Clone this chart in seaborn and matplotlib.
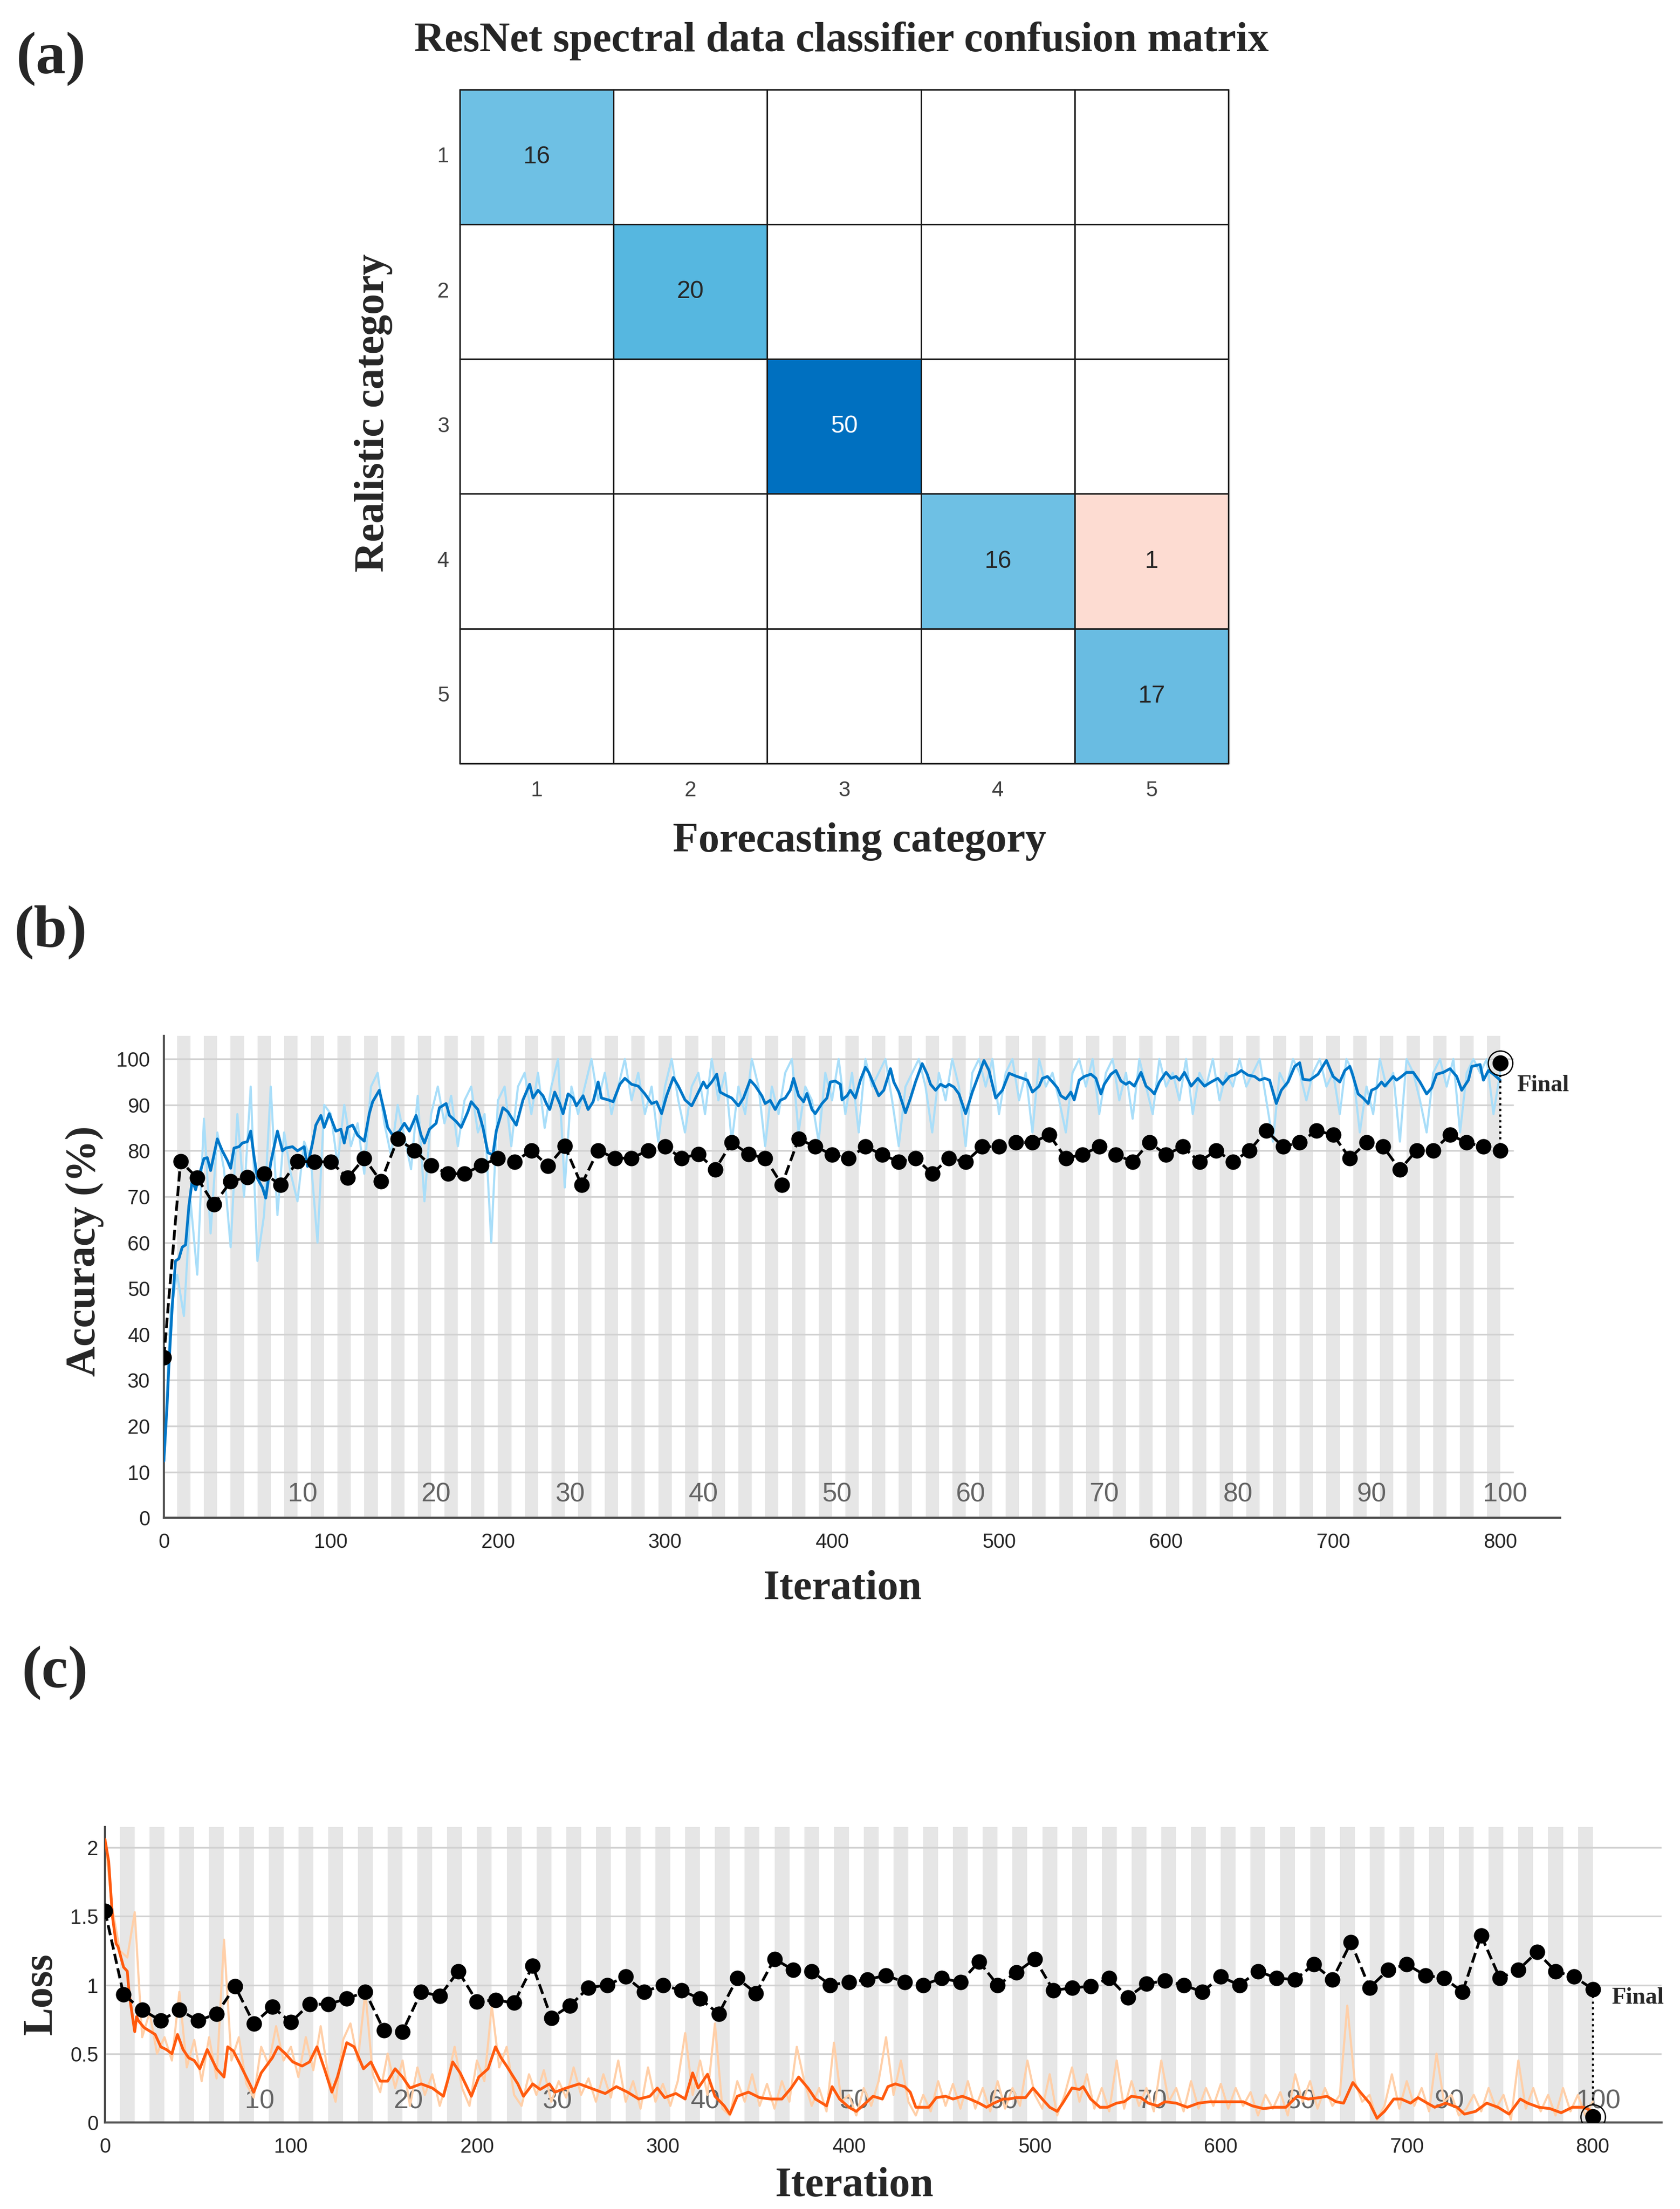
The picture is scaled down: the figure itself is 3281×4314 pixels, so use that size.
import numpy as np
import pandas as pd
import seaborn as sns
import matplotlib.pyplot as plt
from matplotlib.colors import LinearSegmentedColormap

sns.set_style("white")
plt.rcParams['font.family'] = ['Liberation Sans', 'DejaVu Sans']
SERIF = ['Liberation Serif', 'DejaVu Serif']

# ---------------- data ----------------
classes = ['1', '2', '3', '4', '5']
conf = np.array([[16, 0, 0, 0, 0],
                 [0, 20, 0, 0, 0],
                 [0, 0, 50, 0, 0],
                 [0, 0, 0, 16, 1],
                 [0, 0, 0, 0, 17]])

iters_per_epoch = 8
n_epochs = 100
epoch_marks = [10, 20, 30, 40, 50, 60, 70, 80, 90, 100]

val_it = np.arange(0, 801, 10)
val_acc = [35, 77.7, 74.1, 68.3, 73.3, 74.3, 75.0, 72.6, 77.7, 77.6,
           77.6, 74.1, 78.4, 73.3, 82.6, 80.1, 76.8, 75.0, 75.0, 76.8,
           78.4, 77.6, 80.1, 76.7, 81.0, 72.6, 80.1, 78.4, 78.4, 80.1,
           80.9, 78.4, 79.3, 75.9, 81.8, 79.3, 78.4, 72.6, 82.6, 80.9,
           79.2, 78.4, 80.9, 79.2, 77.6, 78.4, 75.0, 78.4, 77.6, 80.9,
           80.9, 81.8, 81.8, 83.5, 78.4, 79.2, 80.9, 79.2, 77.6, 81.8,
           79.2, 80.9, 77.6, 80.1, 77.6, 80.1, 84.4, 80.9, 81.8, 84.4,
           83.5, 78.4, 81.8, 80.9, 75.9, 80.1, 80.1, 83.5, 81.8, 80.9,
           80.1]
val_loss = [1.54, 0.93, 0.82, 0.74, 0.82, 0.74, 0.79, 0.99, 0.72, 0.84,
            0.73, 0.86, 0.86, 0.90, 0.95, 0.67, 0.66, 0.95, 0.92, 1.10,
            0.88, 0.89, 0.87, 1.14, 0.76, 0.85, 0.98, 1.00, 1.06, 0.95,
            1.00, 0.96, 0.90, 0.79, 1.05, 0.94, 1.19, 1.11, 1.10, 1.00,
            1.02, 1.04, 1.07, 1.02, 1.00, 1.05, 1.02, 1.17, 1.00, 1.09,
            1.19, 0.96, 0.98, 0.99, 1.05, 0.91, 1.01, 1.03, 1.00, 0.95,
            1.06, 1.00, 1.10, 1.05, 1.04, 1.15, 1.04, 1.31, 0.98, 1.11,
            1.15, 1.07, 1.05, 0.95, 1.36, 1.05, 1.11, 1.24, 1.10, 1.06,
            0.97]
final_acc = 99.1
final_loss = 0.04

# raw training accuracy, every 4 iterations
acc_raw = [12, 45, 53, 44, 69, 53, 87, 62, 84, 76, 59, 88, 70, 94, 56, 66, 94, 66, 84, 75, 69, 82, 78, 60, 90,
           88, 77, 90, 81, 86, 75, 94, 97, 86, 79, 90, 83, 76, 92, 69, 88, 94, 86, 92, 81, 91, 94, 84, 88, 60,
           91, 94, 81, 94, 97, 88, 97, 85, 94, 100, 72, 94, 88, 94, 100, 91, 97, 88, 94, 100, 91, 97, 88, 94, 82,
           94, 100, 91, 84, 94, 97, 88, 100, 91, 97, 82, 94, 88, 100, 94, 81, 94, 88, 97, 100, 84, 94, 91, 82, 97,
           91, 100, 88, 97, 84, 100, 94, 97, 100, 91, 81, 94, 97, 100, 94, 84, 97, 91, 100, 94, 81, 97, 100, 94, 100,
           88, 97, 100, 91, 97, 84, 100, 94, 97, 91, 84, 97, 100, 94, 100, 88, 97, 100, 91, 97, 87, 100, 94, 88, 100,
           94, 97, 91, 100, 88, 97, 94, 100, 91, 97, 94, 100, 94, 97, 100, 91, 82, 97, 94, 100, 97, 91, 97, 100, 94,
           97, 88, 100, 97, 84, 94, 88, 100, 94, 97, 82, 100, 97, 91, 84, 97, 100, 94, 100, 84, 97, 100, 97, 100, 88,
           97]

# smoothed training accuracy
acc_smooth_it = [0, 2, 3, 5, 7, 9, 11, 13, 15, 17, 19, 22, 24, 26, 28, 32, 35, 38, 40, 42,
                 45, 47, 50, 52, 54, 56, 59, 61, 64, 68, 71, 73, 77, 80, 84, 86, 89, 91, 94, 96,
                 99, 103, 106, 108, 110, 113, 116, 120, 123, 125, 129, 132, 134, 137, 141, 144, 147, 151, 154, 156,
                 159, 163, 165, 169, 171, 175, 178, 182, 184, 188, 191, 194, 197, 199, 203, 206, 208, 211, 215, 219,
                 221, 224, 227, 229, 231, 234, 237, 239, 242, 245, 247, 251, 254, 257, 260, 262, 266, 269, 273, 276,
                 280, 284, 288, 292, 295, 298, 301, 305, 308, 312, 316, 319, 323, 325, 328, 331, 333, 336, 340, 344,
                 347, 351, 354, 358, 360, 363, 366, 369, 372, 375, 377, 380, 383, 385, 388, 390, 394, 397, 399, 402,
                 405, 406, 409, 411, 414, 417, 420, 422, 425, 428, 431, 435, 437, 440, 444, 447, 450, 454, 457, 459,
                 462, 465, 468, 470, 473, 476, 480, 484, 488, 491, 494, 496, 498, 502, 506, 510, 514, 517, 520, 524,
                 526, 529, 532, 535, 537, 540, 543, 545, 548, 551, 555, 558, 561, 563, 567, 570, 573, 576, 578, 581,
                 585, 588, 591, 593, 596, 600, 603, 606, 608, 611, 615, 619, 623, 627, 631, 634, 638, 642, 645, 649,
                 653, 656, 659, 662, 666, 669, 673, 677, 680, 682, 686, 691, 696, 700, 704, 707, 710, 712, 715, 718,
                 721, 723, 726, 729, 731, 736, 738, 741, 744, 748, 752, 756, 759, 762, 766, 770, 774, 777, 781, 783,
                 788, 790, 793, 796, 800]
acc_smooth = [12.4, 25, 33, 46, 56, 56.5, 59, 59.5, 68, 73.6, 71.5, 75.7, 78.3, 78.5, 75.7, 82.6, 80, 77.9, 76.2, 80.6,
              80.9, 81.7, 82, 84.3, 78.7, 74, 72, 69.7, 77.4, 84.3, 80, 80.6, 80.9, 80, 80.9, 76.6, 81.7, 85.6, 87.7, 85.1,
              88.1, 84.3, 84.7, 81.7, 85.1, 85.6, 83.4, 82.1, 88.1, 90.7, 93.2, 88.5, 85.1, 83.4, 84.3, 86, 84.3, 87.7, 83.4, 81.7,
              84.7, 86, 89.4, 90.3, 87.7, 86.4, 85.1, 88.5, 90.7, 89, 85.1, 79.6, 79.1, 84.3, 89.4, 88.5, 87.3, 85.6, 91.1, 94.5,
              91.5, 93.2, 92, 90.3, 89, 92.8, 90.3, 88.1, 92.4, 91.5, 89.8, 92, 89, 90.7, 95, 91.5, 91.1, 90.7, 94.5, 95.8,
              94.5, 94.1, 92.4, 90.3, 90.7, 88.1, 92, 96, 94.1, 91.1, 89.8, 92, 95, 93.7, 95, 96.7, 92.8, 92.2, 91.5, 89.8,
              91.5, 95.4, 94.2, 92, 90.3, 91, 89, 91, 91.5, 93.2, 95.8, 92, 90.7, 92.5, 89, 88.1, 90.3, 91.5, 95, 95.2,
              94.5, 91.1, 92, 93.2, 91.5, 95.4, 98.2, 97.1, 94.5, 92, 93.2, 97.9, 95, 92.8, 88.3, 91.5, 95, 99, 96.7, 94.5,
              93.2, 94.5, 93.9, 94.5, 93.9, 92.4, 88.1, 92.8, 96.7, 99.7, 97.5, 94.5, 91.5, 93.2, 96.9, 96.3, 95.8, 95.4, 92.8, 94.1,
              95.8, 96.2, 95, 93.7, 92, 91.3, 92.8, 91.1, 95.4, 96.2, 96.7, 95.8, 92.4, 94.5, 96.7, 97.5, 95.2, 94.5, 95, 94.1,
              97.1, 94.1, 93.2, 92.4, 95, 97.1, 95.8, 96.2, 95.4, 97.1, 94.1, 95.8, 94.1, 95, 95.8, 94.5, 96.2, 96.7, 97.5, 96.5,
              96.2, 95.4, 95.8, 95.4, 90.3, 93.2, 95, 98.4, 99.2, 95.6, 95.4, 96.7, 99.7, 96.2, 95, 97.5, 98.4, 96.2, 92.4, 91.5,
              90.3, 93.2, 93.7, 95, 94.1, 96.2, 95.4, 96.2, 97.1, 97.1, 95, 92.4, 93.7, 96.7, 97.1, 97.9, 96.2, 93.2, 95.4, 98.4,
              98.8, 95.4, 97.5, 96.7, 95.4]

# raw training loss, every 4 iterations
loss_raw = [2.05, 1.55, 1.25, 1.2, 1.53, 0.62, 0.8, 0.5, 0.62, 0.45, 0.95, 0.4, 0.6, 0.3, 0.62, 0.32, 1.33, 0.45, 0.62, 0.28, 0.18, 0.55, 0.42, 0.7, 0.45,
            0.55, 0.33, 0.62, 0.38, 0.7, 0.35, 0.15, 0.6, 0.72, 0.45, 0.95, 0.35, 0.22, 0.5, 0.25, 0.45, 0.12, 0.4, 0.2, 0.35, 0.12, 0.3, 0.55, 0.25, 0.12,
            0.45, 0.3, 0.85, 0.4, 0.55, 0.2, 0.12, 0.35, 0.2, 0.38, 0.15, 0.3, 0.18, 0.4, 0.2, 0.32, 0.15, 0.35, 0.18, 0.45, 0.15, 0.3, 0.1, 0.4, 0.15,
            0.28, 0.12, 0.3, 0.65, 0.2, 0.45, 0.2, 0.72, 0.1, 0.05, 0.3, 0.15, 0.35, 0.12, 0.28, 0.1, 0.3, 0.15, 0.55, 0.3, 0.12, 0.25, 0.08, 0.58, 0.15,
            0.2, 0.05, 0.25, 0.12, 0.3, 0.62, 0.2, 0.45, 0.15, 0.05, 0.2, 0.08, 0.3, 0.12, 0.28, 0.1, 0.3, 0.1, 0.25, 0.08, 0.3, 0.1, 0.25, 0.12, 0.45,
            0.2, 0.1, 0.35, 0.05, 0.2, 0.4, 0.15, 0.35, 0.1, 0.25, 0.08, 0.45, 0.1, 0.3, 0.12, 0.25, 0.08, 0.45, 0.15, 0.25, 0.08, 0.3, 0.1, 0.25, 0.12,
            0.28, 0.1, 0.25, 0.12, 0.22, 0.05, 0.2, 0.1, 0.22, 0.05, 0.35, 0.15, 0.3, 0.1, 0.25, 0.12, 0.2, 0.85, 0.3, 0.15, 0.2, 0.02, 0.12, 0.35, 0.1,
            0.3, 0.12, 0.25, 0.08, 0.5, 0.15, 0.2, 0.05, 0.1, 0.2, 0.08, 0.25, 0.1, 0.2, 0.02, 0.45, 0.1, 0.25, 0.08, 0.2, 0.05, 0.25, 0.08, 0.2, 0.05,
            0.15]

# smoothed training loss
loss_smooth_it = [0, 2, 4, 6, 7, 10, 12, 13, 15, 16, 17, 18, 21, 27, 30, 33, 36, 39, 42, 45,
                  48, 51, 55, 60, 64, 66, 69, 72, 76, 80, 84, 90, 93, 97, 101, 106, 110, 114, 118, 122,
                  125, 130, 134, 139, 143, 148, 152, 156, 160, 164, 170, 176, 182, 187, 191, 197, 201, 206, 210, 213,
                  216, 222, 225, 230, 234, 239, 242, 248, 255, 263, 269, 275, 281, 287, 293, 297, 301, 307, 312, 316,
                  319, 324, 328, 333, 336, 340, 346, 352, 358, 364, 369, 373, 378, 382, 388, 391, 395, 400, 404, 409,
                  413, 418, 421, 425, 430, 433, 436, 439, 443, 447, 452, 456, 461, 465, 470, 474, 478, 483, 486, 490,
                  495, 499, 504, 508, 512, 515, 520, 524, 526, 530, 535, 539, 544, 548, 552, 557, 561, 566, 570, 576,
                  582, 588, 594, 600, 606, 612, 617, 623, 629, 635, 641, 647, 653, 657, 662, 666, 671, 675, 680, 684,
                  688, 693, 697, 702, 706, 711, 715, 721, 727, 731, 737, 743, 749, 755, 761, 765, 771, 777, 783, 789,
                  795, 800]
loss_smooth = [2.06, 1.9, 1.5, 1.3, 1.28, 1.13, 1.1, 0.94, 0.75, 0.66, 0.77, 0.74, 0.69, 0.64, 0.55, 0.53, 0.5, 0.64, 0.53, 0.47,
               0.45, 0.39, 0.53, 0.39, 0.33, 0.55, 0.52, 0.44, 0.33, 0.22, 0.36, 0.47, 0.55, 0.5, 0.44, 0.41, 0.44, 0.55, 0.39, 0.22,
               0.33, 0.58, 0.55, 0.39, 0.44, 0.3, 0.3, 0.39, 0.33, 0.25, 0.28, 0.25, 0.19, 0.44, 0.36, 0.19, 0.33, 0.39, 0.55, 0.47,
               0.41, 0.28, 0.19, 0.28, 0.24, 0.28, 0.22, 0.25, 0.28, 0.24, 0.21, 0.26, 0.22, 0.17, 0.19, 0.25, 0.18, 0.21, 0.17, 0.36,
               0.25, 0.35, 0.19, 0.12, 0.06, 0.19, 0.22, 0.18, 0.17, 0.17, 0.25, 0.33, 0.25, 0.17, 0.12, 0.26, 0.17, 0.11, 0.08, 0.14,
               0.19, 0.17, 0.26, 0.28, 0.26, 0.22, 0.11, 0.11, 0.11, 0.18, 0.19, 0.17, 0.19, 0.17, 0.14, 0.11, 0.14, 0.17, 0.17, 0.18,
               0.18, 0.25, 0.17, 0.11, 0.08, 0.14, 0.25, 0.24, 0.26, 0.17, 0.11, 0.11, 0.14, 0.15, 0.19, 0.18, 0.14, 0.12, 0.15, 0.14,
               0.11, 0.14, 0.15, 0.15, 0.15, 0.15, 0.12, 0.10, 0.11, 0.11, 0.19, 0.17, 0.18, 0.19, 0.15, 0.14, 0.29, 0.22, 0.14, 0.03,
               0.08, 0.17, 0.17, 0.14, 0.18, 0.14, 0.11, 0.14, 0.11, 0.06, 0.08, 0.14, 0.11, 0.06, 0.17, 0.14, 0.11, 0.10, 0.07, 0.11,
               0.11, 0.08]

acc_ticks = np.arange(0, 101, 10)
loss_ticks = [0, 0.5, 1, 1.5, 2]
loss_ticklabels = ['0', '0.5', '1', '1.5', '2']
iter_ticks = np.arange(0, 801, 100)

# ---------------- figure ----------------
fig = plt.figure(figsize=(3281 / 300, 4314 / 300), dpi=300)

# (a) confusion matrix
ax_a = fig.add_axes([0.2737, 0.6544, 0.4575, 0.3051])
cm = pd.DataFrame(conf, index=classes, columns=classes)
diag = np.eye(len(classes), dtype=bool)
zero = conf == 0
cmap_diag = LinearSegmentedColormap.from_list(
    'diag', [(0, '#A8DAF0'), (0.32, '#6EC0E4'), (0.34, '#69BCE2'), (0.40, '#56B7E0'), (1.0, '#0070C0')])
cmap_off = LinearSegmentedColormap.from_list('off', ['#FDDCD2', '#D95319'])
sns.heatmap(cm, mask=~diag | zero, cmap=cmap_diag, vmin=0, vmax=50, annot=True, fmt='d',
            cbar=False, ax=ax_a, annot_kws={'fontsize': 11.5})
sns.heatmap(cm, mask=diag | zero, cmap=cmap_off, vmin=1, vmax=50, annot=True, fmt='d',
            cbar=False, ax=ax_a, annot_kws={'fontsize': 11.5})
for k in range(len(classes) + 1):
    ax_a.axhline(k, color='#1a1a1a', lw=0.7, clip_on=False)
    ax_a.axvline(k, color='#1a1a1a', lw=0.7, clip_on=False)
ax_a.tick_params(length=0, labelsize=10, colors='#404040')
ax_a.tick_params(axis='y', pad=5, rotation=0)
ax_a.tick_params(axis='x', pad=8)
ax_a.set_xlabel('')
ax_a.set_ylabel('')

fig.text(0.501, 0.9815, 'ResNet spectral data classifier confusion matrix', ha='center', va='center',
         family=SERIF, weight='bold', fontsize=19.7)
fig.text(0.2222, 0.8132, 'Realistic category', rotation=90, ha='center', va='center',
         family=SERIF, weight='bold', fontsize=19.7)
fig.text(0.5115, 0.6191, 'Forecasting category', ha='center', va='center',
         family=SERIF, weight='bold', fontsize=19.7)


def training_panel(ax, raw, raw_color, sm_it, sm, sm_color, val, final_val, ylim, yticks,
                   yticklabels, label_y, final_y, grid_right, ypad):
    for e in range(1, n_epochs, 2):
        ax.axvspan(e * iters_per_epoch, (e + 1) * iters_per_epoch, color='#E6E6E6', lw=0, zorder=0)
    ax.hlines(yticks, 0, grid_right, color='#D2D2D2', lw=0.8, zorder=0.5)
    for e in epoch_marks:
        ax.text(e * iters_per_epoch + 3, label_y, str(e), ha='center', va='center',
                color='#646464', fontsize=12.5, zorder=1)
    raw_it = np.arange(len(raw)) * 4
    sns.lineplot(x=raw_it, y=raw, color=raw_color, lw=1.0, ax=ax, zorder=2)
    sns.lineplot(x=sm_it, y=sm, color=sm_color, lw=1.3, ax=ax, zorder=3)
    sns.lineplot(x=val_it, y=val, color='k', linestyle='--', lw=1.3, marker='o', markersize=6.5,
                 markeredgecolor='k', ax=ax, zorder=4)
    last = val_it[-1]
    ax.vlines(last, min(val[-1], final_val), max(val[-1], final_val), color='k', linestyles=':',
              lw=1.0, zorder=4)
    ax.plot([last], [final_val], 'o', ms=6.5, color='k', zorder=5)
    ax.plot([last], [final_val], 'o', ms=11.5, mfc='none', mec='k', mew=0.6, zorder=5)
    ax.text(last + 10, final_y, 'Final', ha='left', va='center', family=SERIF, weight='bold',
            fontsize=11)
    ax.set_ylim(*ylim)
    ax.set_xlim(0, 836)
    ax.set_yticks(yticks)
    ax.set_yticklabels(yticklabels)
    ax.set_xticks(iter_ticks)
    ax.tick_params(direction='in', length=6, width=0.8, color='#404040', labelsize=9.5,
                   labelcolor='#262626')
    ax.tick_params(axis='y', pad=ypad)
    ax.tick_params(axis='x', pad=7)
    for s in ['top', 'right']:
        ax.spines[s].set_visible(False)
    for s in ['left', 'bottom']:
        ax.spines[s].set_color('#505050')
        ax.spines[s].set_linewidth(1.0)
    ax.set_xlabel('')
    ax.set_ylabel('')


# (b) accuracy
ax_b = fig.add_axes([0.09753, 0.31286, 0.8312, 0.21831])
training_panel(ax_b, acc_raw, '#A9DEF9', acc_smooth_it, acc_smooth, '#0077C8', val_acc, final_acc,
               (0, 105.1), acc_ticks, [str(t) for t in acc_ticks], 5.1, 94.2, 808, 6.5)
fig.text(0.5013, 0.2805, 'Iteration', ha='center', va='center', family=SERIF, weight='bold', fontsize=19.7)
fig.text(0.0503, 0.4336, 'Accuracy (%)', rotation=90, ha='center', va='center', family=SERIF,
         weight='bold', fontsize=19.7)

# (c) loss
ax_c = fig.add_axes([0.06248, 0.03922, 0.92655, 0.1337])
training_panel(ax_c, loss_raw, '#FFCFA8', loss_smooth_it, loss_smooth, '#FF5A0E', val_loss, final_loss,
               (0, 2.15), loss_ticks, loss_ticklabels, 0.152, 0.905, 837, 3)
ax_c.set_xlim(0, 837)
fig.text(0.5083, 0.0102, 'Iteration', ha='center', va='center', family=SERIF, weight='bold', fontsize=19.7)
fig.text(0.0247, 0.0974, 'Loss', rotation=90, ha='center', va='center', family=SERIF,
         weight='bold', fontsize=19.7)

# panel letters
for lx, ly, lab in [(0.0098, 0.9736, '(a)'), (0.0084, 0.578, '(b)'), (0.0132, 0.2428, '(c)')]:
    fig.text(lx, ly, lab, ha='left', va='center', family=SERIF, weight='bold', fontsize=28)

fig.savefig('out.png', dpi=300)
